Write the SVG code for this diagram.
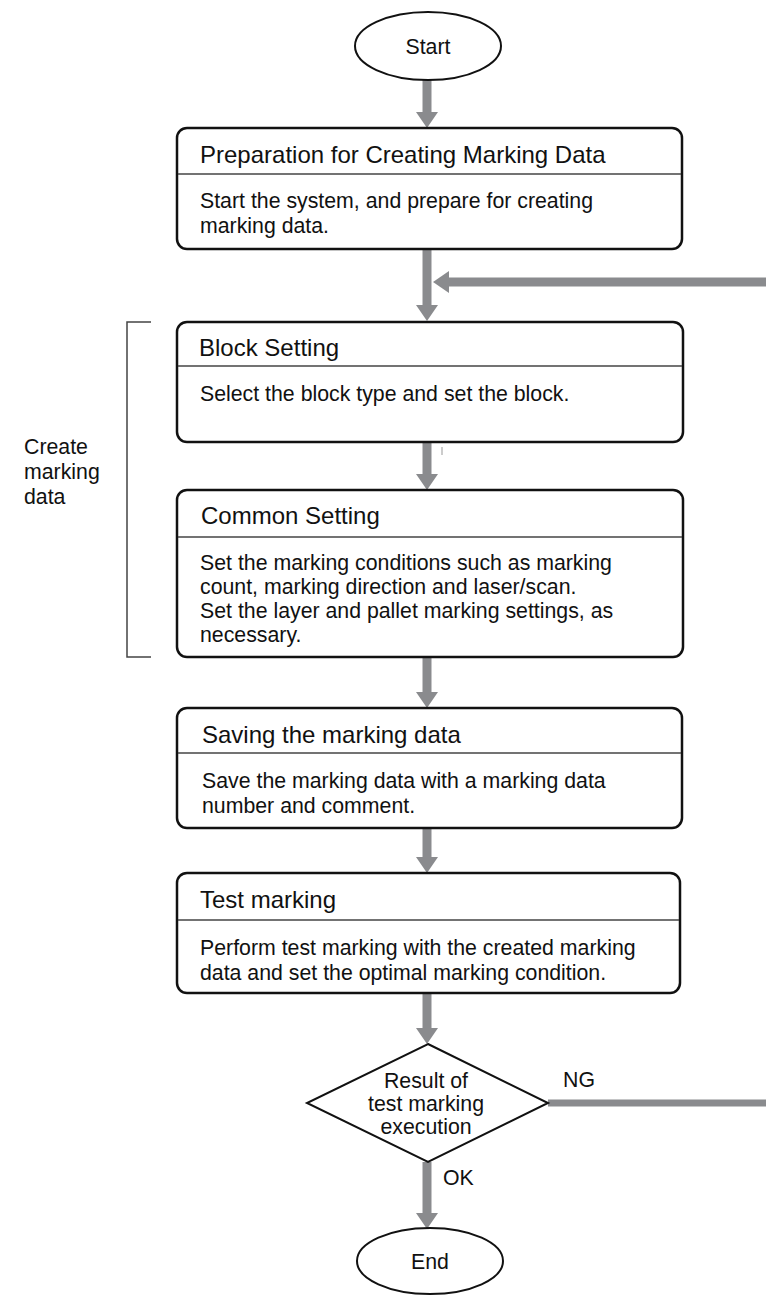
<svg xmlns="http://www.w3.org/2000/svg" width="766" height="1296" viewBox="0 0 766 1296">
<defs>
<style>
.box{fill:#fff;stroke:#111;stroke-width:2.5}
.term{fill:#fff;stroke:#111;stroke-width:2}
.div{stroke:#444;stroke-width:1.3}
.t{font-family:"Liberation Sans",Arial,sans-serif;font-size:24px;fill:#111}
.b{font-family:"Liberation Sans",Arial,sans-serif;font-size:21.3px;fill:#111}
.shaft{stroke:#8a8b8e;stroke-width:9;fill:none}
.head{fill:#8a8b8e}
.brk{fill:none;stroke:#444;stroke-width:1.5}
</style>
</defs>
<g id="connectors">
<line class="shaft" x1="427" y1="80" x2="427" y2="113"/>
<polygon class="head" points="416,112 438,112 427,128"/>
<line class="shaft" x1="427" y1="249" x2="427" y2="306"/>
<polygon class="head" points="416,305 438,305 427,321"/>
<line class="shaft" x1="766" y1="282" x2="448" y2="282"/>
<polygon class="head" points="449,271 449,293 433,282"/>
<line class="shaft" x1="427" y1="442" x2="427" y2="475"/>
<polygon class="head" points="416,474 438,474 427,490"/>
<line x1="442" y1="447" x2="442" y2="455" stroke="#999" stroke-width="1"/>
<line class="shaft" x1="427" y1="657" x2="427" y2="693"/>
<polygon class="head" points="416,692 438,692 427,708"/>
<line class="shaft" x1="427" y1="828" x2="427" y2="858"/>
<polygon class="head" points="416,857 438,857 427,873"/>
<line class="shaft" x1="427" y1="993" x2="427" y2="1029"/>
<polygon class="head" points="416,1028 438,1028 427,1044"/>
<line class="shaft" x1="427" y1="1162" x2="427" y2="1214"/>
<polygon class="head" points="416,1213 438,1213 427,1229"/>
<line x1="548" y1="1103" x2="766" y2="1103" stroke="#8a8b8e" stroke-width="7"/>
<text class="b" x="563" y="1087">NG</text>
<text class="b" x="443" y="1185">OK</text>
</g>
<g id="start">
<ellipse class="term" cx="428" cy="46" rx="73" ry="34"/>
<text class="b" x="428" y="54" text-anchor="middle" font-size="22">Start</text>
</g>
<g id="prep">
<rect class="box" x="177" y="128" width="505" height="121" rx="10"/>
<line class="div" x1="178" y1="174" x2="681" y2="174"/>
<text class="t" x="200" y="163">Preparation for Creating Marking Data</text>
<text class="b" x="200" y="208">Start the system, and prepare for creating</text>
<text class="b" x="200" y="233">marking data.</text>
</g>
<g id="bracket">
<polyline class="brk" points="151,322 127,322 127,657 151,657"/>
<text class="b" x="24" y="454">Create</text>
<text class="b" x="24" y="479">marking</text>
<text class="b" x="24" y="504">data</text>
</g>
<g id="block">
<rect class="box" x="177" y="322" width="506" height="120" rx="10"/>
<line class="div" x1="178" y1="366" x2="682" y2="366"/>
<text class="t" x="199" y="356">Block Setting</text>
<text class="b" x="200" y="401">Select the block type and set the block.</text>
</g>
<g id="common">
<rect class="box" x="177" y="490" width="506" height="167" rx="10"/>
<line class="div" x1="178" y1="537" x2="682" y2="537"/>
<text class="t" x="201" y="524">Common Setting</text>
<text class="b" x="200" y="570">Set the marking conditions such as marking</text>
<text class="b" x="200" y="594">count, marking direction and laser/scan.</text>
<text class="b" x="200" y="618">Set the layer and pallet marking settings, as</text>
<text class="b" x="200" y="642">necessary.</text>
</g>
<g id="saving">
<rect class="box" x="177" y="708" width="505" height="120" rx="10"/>
<line class="div" x1="178" y1="753" x2="681" y2="753"/>
<text class="t" x="202" y="743">Saving the marking data</text>
<text class="b" x="202" y="788">Save the marking data with a marking data</text>
<text class="b" x="202" y="813">number and comment.</text>
</g>
<g id="test">
<rect class="box" x="177" y="873" width="503" height="120" rx="10"/>
<line class="div" x1="178" y1="920" x2="679" y2="920"/>
<text class="t" x="200" y="908">Test marking</text>
<text class="b" x="200" y="955">Perform test marking with the created marking</text>
<text class="b" x="200" y="980">data and set the optimal marking condition.</text>
</g>
<g id="decision">
<polygon class="term" points="428,1044 548,1103 428,1162 307,1103"/>
<text class="b" x="426" y="1088" text-anchor="middle">Result of</text>
<text class="b" x="426" y="1111" text-anchor="middle">test marking</text>
<text class="b" x="426" y="1134" text-anchor="middle">execution</text>
</g>
<g id="end">
<ellipse class="term" cx="430" cy="1261" rx="73" ry="33"/>
<text class="b" x="430" y="1269" text-anchor="middle" font-size="22">End</text>
</g>
</svg>
